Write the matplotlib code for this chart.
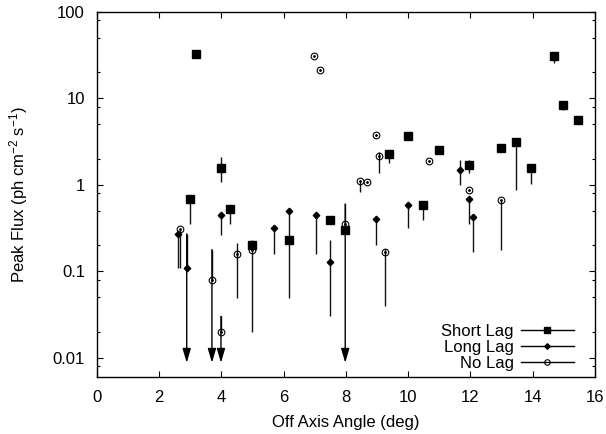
import numpy as np
import matplotlib
matplotlib.use("Agg")
import matplotlib.pyplot as plt
from matplotlib.lines import Line2D
from matplotlib.ticker import FixedLocator, FixedFormatter

plt.rcParams['font.family'] = ['Liberation Sans', 'DejaVu Sans']
plt.rcParams['mathtext.default'] = 'regular'

# Short Lag
short_x  = [2.99, 3.2, 4.0, 4.28, 4.99, 6.17, 7.49, 7.98, 9.38, 9.99, 10.47, 10.98, 11.96, 12.97, 13.46, 13.96, 14.67, 14.96, 15.47]
short_y  = [0.69, 32.5, 1.57, 0.53, 0.20, 0.23, 0.39, 0.30, 2.28, 3.7, 0.59, 2.53, 1.7, 2.69, 3.16, 1.57, 31, 8.4, 5.6]
short_lo = [0.35, 32.5, 1.07, 0.35, 0.20, 0.23, 0.39, 0.30, 1.78, 3.7, 0.39, 2.53, 1.36, 2.69, 0.88, 1.03, 26, 7.3, 5.6]
short_hi = [0.69, 32.5, 2.08, 0.53, 0.23, 0.23, 0.39, 0.60, 2.28, 3.7, 0.59, 2.53, 1.94, 2.69, 3.16, 1.57, 31, 8.4, 5.6]

# Long Lag
long_x  = [2.6, 2.89, 3.99, 5.68, 6.17, 7.03, 7.49, 8.98, 9.99, 11.68, 11.97, 12.07]
long_y  = [0.267, 0.108, 0.45, 0.32, 0.50, 0.45, 0.128, 0.40, 0.59, 1.47, 0.69, 0.42]
long_lo = [0.11, 0.108, 0.26, 0.16, 0.049, 0.16, 0.03, 0.20, 0.32, 1.0, 0.35, 0.167]
long_hi = [0.267, 0.27, 0.45, 0.32, 0.50, 0.45, 0.23, 0.40, 0.59, 1.94, 0.69, 0.42]

# No Lag
no_x  = [2.69, 3.7, 3.99, 4.49, 4.99, 6.97, 7.18, 7.97, 8.47, 8.69, 8.98, 9.07, 9.27, 10.66, 11.97, 12.97]
no_y  = [0.305, 0.079, 0.02, 0.158, 0.178, 31, 21.5, 0.355, 1.12, 1.08, 3.8, 2.18, 0.167, 1.87, 0.88, 0.66]
no_lo = [0.11, 0.079, 0.02, 0.049, 0.02, 31, 21.5, 0.355, 0.82, 1.08, 3.8, 1.36, 0.04, 1.87, 0.88, 0.178]
no_hi = [0.305, 0.178, 0.03, 0.21, 0.178, 31, 21.5, 0.355, 1.12, 1.08, 3.8, 2.38, 0.18, 1.87, 0.88, 0.66]

# Upper-limit arrows
arrow_x   = [2.89, 3.7, 3.99, 7.98]
arrow_top = [0.27, 0.178, 0.03, 0.6]
arrow_tip = 0.0087

ytick_vals = [0.01, 0.1, 1, 10, 100]
ytick_labels = ['0.01', '0.1', '1', '10', '100']
xtick_vals = [0, 2, 4, 6, 8, 10, 12, 14, 16]

fig = plt.figure(figsize=(6.06, 4.34), dpi=100)
ax = fig.add_axes([0.1596, 0.132, 0.9818 - 0.1596, 0.9724 - 0.132])
ax.set_yscale('log')
ax.set_xlim(0, 16)
ax.set_ylim(0.006, 100)

lc = '#111111'
for xs, lo, hi in [(short_x, short_lo, short_hi), (long_x, long_lo, long_hi), (no_x, no_lo, no_hi)]:
    ax.vlines(xs, lo, hi, color=lc, lw=1.0, zorder=2)

for x, top in zip(arrow_x, arrow_top):
    ax.annotate('', xy=(x, arrow_tip), xytext=(x, top),
                arrowprops=dict(arrowstyle='-|>,head_length=0.85,head_width=0.25',
                                color='k', lw=1.0, shrinkA=0, shrinkB=0), zorder=2)

ax.plot(short_x, short_y, ls='none', marker='s', ms=5.2, color='k', zorder=3)
ax.plot(long_x, long_y, ls='none', marker='D', ms=3.3, color='k', zorder=3)
ax.plot(no_x, no_y, ls='none', marker='o', ms=4.8, mfc='none', mec='k', mew=0.8, zorder=3)
ax.plot(no_x, no_y, ls='none', marker='o', ms=1.0, color='k', zorder=3)

ax.yaxis.set_major_locator(FixedLocator(ytick_vals))
ax.yaxis.set_major_formatter(FixedFormatter(ytick_labels))
minors = [m * 10.0**k for k in range(-3, 2) for m in (2, 5, 8)]
ax.yaxis.set_minor_locator(FixedLocator(minors))
ax.yaxis.set_minor_formatter(FixedFormatter([''] * len(minors)))
ax.set_xticks(xtick_vals)
ax.set_xticklabels([str(v) for v in xtick_vals])

ax.tick_params(which='major', direction='in', length=4.5, width=0.8, top=True, right=True,
               labelsize=12)
ax.tick_params(axis='y', which='major', pad=8.5)
ax.tick_params(axis='x', which='major', pad=9.5)
ax.tick_params(which='minor', direction='in', length=2.3, width=0.8, top=False, right=True)
for s in ax.spines.values():
    s.set_linewidth(1.0)

ax.set_xlabel('Off Axis Angle (deg)', fontsize=12, labelpad=7)
ax.set_ylabel('Peak Flux (ph cm$^{-2}$ s$^{-1}$)', fontsize=12, labelpad=16)

handles = [
    Line2D([], [], color='k', lw=1, marker='s', ms=4.5),
    Line2D([], [], color='k', lw=1, marker='D', ms=2.8),
    Line2D([], [], color='k', lw=1, marker='o', ms=4.0, mfc='none', mew=0.8),
]
labels = ['Short Lag', 'Long Lag', 'No Lag']
leg = ax.legend(handles, labels, loc='lower right', frameon=False, markerfirst=False,
                fontsize=12, handlelength=3.2, labelspacing=0.05, handletextpad=0.4,
                borderaxespad=0.0, bbox_to_anchor=(0.971, -0.002))
for t in leg.get_texts():
    t.set_ha('right')

fig.savefig('out.png', dpi=100)
